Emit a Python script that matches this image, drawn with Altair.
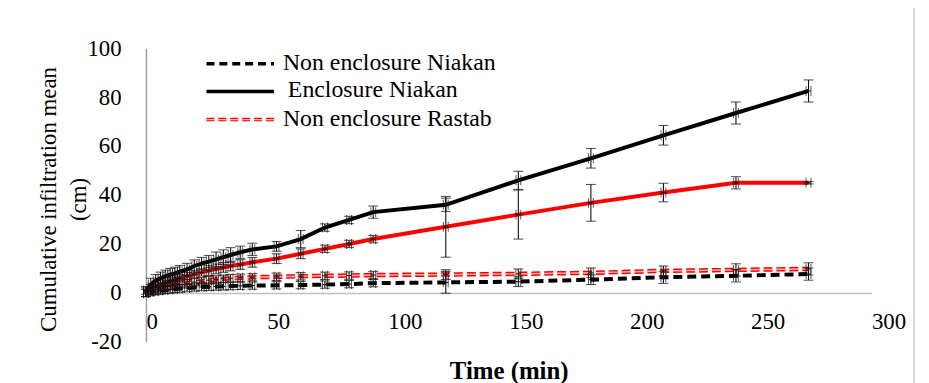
import altair as alt
import pandas as pd

FONT = "Liberation Serif"

# ---- data ----
times = [0, 2, 4, 6, 8, 10, 12, 14, 17, 20, 23, 26, 29, 32, 35, 39, 44, 54,
         64, 74, 84, 94, 124, 154, 184, 214, 244, 274]

non_enc_niakan = [0, 0.4, 0.7, 1.0, 1.2, 1.4, 1.6, 1.8, 2.0, 2.2, 2.4, 2.5, 2.6, 2.7,
                  2.8, 2.9, 3.0, 3.1, 3.2, 3.4, 3.6, 4.0, 4.3, 4.6, 5.4, 6.4, 7.0, 7.7]
non_enc_niakan_err = [1.5, 1.5, 1.5, 1.5, 1.5, 1.5, 1.5, 1.5, 1.5, 1.5, 1.5, 1.5, 1.5, 1.5,
                      1.5, 1.5, 1.5, 1.5, 1.5, 1.5, 1.5, 1.5, 4.4, 2.0, 2.0, 2.5, 2.5, 2.5]

enc_niakan = [0.5, 3.5, 5.0, 6.0, 6.8, 7.5, 8.0, 8.7, 9.6, 11.0, 12.0, 12.8, 13.7, 14.6,
              15.5, 16.6, 17.8, 19.0, 22.0, 26.7, 29.8, 33.0, 36.0, 46.0, 55.0, 64.4, 73.5, 82.5]
enc_niakan_err = [2.0, 2.5, 2.5, 2.5, 2.5, 2.5, 2.5, 2.5, 2.5, 2.5, 2.5, 2.5, 3.0, 3.0,
                  3.0, 2.5, 2.5, 2.0, 3.5, 1.5, 1.5, 2.5, 2.7, 3.7, 4.0, 4.0, 4.5, 4.5]

non_enc_rastab = [0, 0.8, 1.4, 1.9, 2.4, 2.8, 3.2, 3.5, 4.0, 4.4, 4.8, 5.2, 5.5, 5.8,
                  6.0, 6.2, 6.4, 6.6, 6.8, 7.0, 7.1, 7.3, 7.5, 7.8, 8.2, 9.0, 9.4, 9.8]
non_enc_rastab_err = [1.5, 1.5, 1.5, 1.5, 1.5, 1.5, 1.5, 1.5, 1.5, 1.5, 1.5, 1.5, 1.5, 1.5,
                      1.5, 1.5, 1.5, 1.5, 1.5, 1.5, 1.5, 1.5, 2.0, 2.0, 2.0, 2.0, 2.5, 2.5]

enc_rastab = [1.0, 2.0, 2.8, 3.5, 4.2, 4.8, 5.4, 6.0, 6.8, 7.6, 8.4, 9.1, 9.8, 10.4,
              11.0, 11.6, 12.5, 14.0, 16.0, 18.0, 20.0, 22.0, 27.0, 32.0, 36.8, 41.0, 45.0, 45.0]
enc_rastab_err = [1.5, 1.5, 1.5, 1.5, 1.5, 1.5, 1.5, 1.5, 1.5, 1.5, 1.5, 2.0, 2.0, 2.0,
                  2.0, 2.0, 2.0, 2.0, 2.0, 1.5, 1.5, 1.5, 12.4, 10.0, 7.5, 3.8, 2.5, 0.5]

X_ERR = 1.0  # horizontal error bar half-width (min)

series = [
    ("Non enclosure Niakan", non_enc_niakan, non_enc_niakan_err),
    ("Enclosure Niakan", enc_niakan, enc_niakan_err),
    ("Non enclosure Rastab", non_enc_rastab, non_enc_rastab_err),
    ("Enclosure Rastab", enc_rastab, enc_rastab_err),
]

rows = []
for name, vals, errs in series:
    for t, v, e in zip(times, vals, errs):
        rows.append({"series": name, "t": t, "v": v, "lo": v - e, "hi": v + e,
                     "tlo": t - X_ERR, "thi": t + X_ERR})
df = pd.DataFrame(rows)

W, H = 731, 296
FS = 23

x_axis = alt.Axis(
    values=[0, 50, 100, 150, 200, 250, 300], grid=False, ticks=False, tickSize=0,
    domainColor="#c0c0c0", domainWidth=1.5, offset=-49.3,
    labelFont=FONT, labelFontSize=FS, labelFontWeight="normal", labelColor="black",
    labelAlign="left", labelPadding=18, labelFlush=False, labelExpr="'' + datum.value",
    title="Time (min)", titleFont=FONT, titleFontSize=25, titleFontWeight="bold",
    titleColor="black", titleX=W / 2, titleY=78, titleAlign="center", titleBaseline="middle",
)
y_axis = alt.Axis(
    values=[-20, 0, 20, 40, 60, 80, 100], grid=False, ticks=False, tickSize=0,
    domainColor="#a0a0a0", domainWidth=1.5,
    labelFont=FONT, labelFontSize=FS, labelFontWeight="normal", labelColor="black",
    labelPadding=25, labelFlush=False, labelExpr="'' + datum.value",
    title=["Cumulative infiltration mean", "(cm)"], titleFont=FONT, titleFontSize=FS,
    titleFontWeight="normal", titleColor="black", titleAngle=-90,
    titleX=-98, titleY=H / 2 + 4, titleAlign="center", titleBaseline="middle",
    titleLineHeight=30,
)
xs = alt.Scale(domain=[0, 300], nice=False, zero=False)
ys = alt.Scale(domain=[-20, 100], nice=False, zero=False)


def X(f):
    return alt.X(f + ":Q", scale=xs, axis=x_axis)


def Y(f):
    return alt.Y(f + ":Q", scale=ys, axis=y_axis)


base = alt.Chart(df)


def line(name, color, width, dash=None):
    kw = dict(color=color, strokeWidth=width, clip=False)
    if dash:
        kw["strokeDash"] = dash
    return base.transform_filter(alt.datum.series == name).mark_line(**kw).encode(
        x=X("t"), y=Y("v"))


ERR_C = "#111111"
err_v = base.mark_rule(color=ERR_C, strokeWidth=1.1).encode(x=X("t"), y=Y("lo"), y2="hi:Q")
cap_lo = base.mark_tick(orient="horizontal", size=10, thickness=1.1, color=ERR_C).encode(
    x=X("t"), y=Y("lo"))
cap_hi = base.mark_tick(orient="horizontal", size=10, thickness=1.1, color=ERR_C).encode(
    x=X("t"), y=Y("hi"))
err_h = base.mark_rule(color=ERR_C, strokeWidth=1).encode(x=X("tlo"), x2="thi:Q", y=Y("v"))
cap_l = base.mark_tick(orient="vertical", size=10, thickness=1, color=ERR_C).encode(
    x=X("tlo"), y=Y("v"))
cap_r = base.mark_tick(orient="vertical", size=10, thickness=1, color=ERR_C).encode(
    x=X("thi"), y=Y("v"))

lines = [
    line("Non enclosure Niakan", "black", 4, [9, 5]),
    line("Enclosure Niakan", "black", 4),
    line("Non enclosure Rastab", "#ff0000", 4.5, [9, 4]),
    line("Non enclosure Rastab", "#ffb3b3", 1.5, [9, 4]),
    line("Enclosure Rastab", "#ff0000", 4),
]

# ---- chart-area border (light grey frame) ----
one = pd.DataFrame({"k": [0]})
frame = alt.Chart(one).mark_rect(fill=None, stroke="#d0d0d0", strokeWidth=1.5).encode(
    x=alt.value(-140), x2=alt.value(774), y=alt.value(-60), y2=alt.value(360))

# ---- manual legend (first three entries, as in the reference) ----
leg_labels = ["Non enclosure Niakan", "Enclosure Niakan", "Non enclosure Rastab"]
leg = []
rows_y = [15.7, 43.7, 72.0]
text_x = [138, 143, 138]
styles = [("black", 3.5, [8, 5], None), ("black", 3.5, None, None),
          ("#ff0000", 3.5, [8, 4], "#ffb3b3")]
for lab, yy, tx, (c, w, d, inner) in zip(leg_labels, rows_y, text_x, styles):
    kw = dict(color=c, strokeWidth=w)
    if d:
        kw["strokeDash"] = d
    leg.append(alt.Chart(one).mark_rule(**kw).encode(
        x=alt.value(61), x2=alt.value(129), y=alt.value(yy)))
    if inner:
        leg.append(alt.Chart(one).mark_rule(color=inner, strokeWidth=1.2, strokeDash=d).encode(
            x=alt.value(61), x2=alt.value(129), y=alt.value(yy)))
    leg.append(alt.Chart(one).mark_text(
        text=lab, font=FONT, fontSize=24, fontWeight="normal", color="black",
        align="left", baseline="middle"
    ).encode(x=alt.value(tx), y=alt.value(yy - 1)))

chart = alt.layer(frame, *lines, err_v, cap_lo, cap_hi, err_h, cap_l, cap_r, *leg).properties(
    width=W, height=H,
    padding={"left": 139, "top": 39, "right": 50, "bottom": 40},
    autosize=alt.AutoSizeParams(type="none"),
).configure(
    background="white", font=FONT
).configure_view(stroke=None).configure_axis(
    labelFont=FONT, titleFont=FONT
).configure_text(font=FONT)

chart.save("out.html", embed_options={"renderer": "svg", "actions": False})
